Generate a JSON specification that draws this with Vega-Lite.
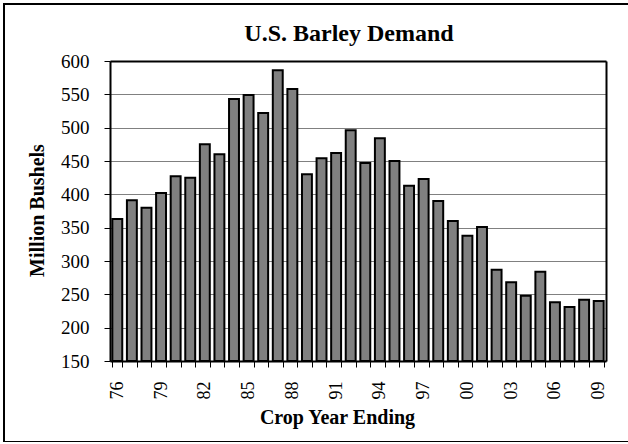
{
  "$schema": "https://vega.github.io/schema/vega-lite/v6.json",
  "autosize": {"type": "none"},
  "width": 626,
  "height": 438,
  "padding": {"left": 4, "top": 4, "right": 0, "bottom": 0},
  "background": "white",
  "title": {
    "text": "U.S. Barley Demand",
    "font": "Liberation Serif",
    "fontSize": 24,
    "fontWeight": "bold",
    "color": "black",
    "anchor": "middle",
    "baseline": "alphabetic",
    "dx": 32,
    "offset": -61
  },
  "data": {
    "values": [
      {"year": 1976, "demand": 363},
      {"year": 1977, "demand": 391},
      {"year": 1978, "demand": 380},
      {"year": 1979, "demand": 402},
      {"year": 1980, "demand": 427},
      {"year": 1981, "demand": 425},
      {"year": 1982, "demand": 475},
      {"year": 1983, "demand": 460},
      {"year": 1984, "demand": 543},
      {"year": 1985, "demand": 549},
      {"year": 1986, "demand": 522},
      {"year": 1987, "demand": 586},
      {"year": 1988, "demand": 558},
      {"year": 1989, "demand": 430},
      {"year": 1990, "demand": 454},
      {"year": 1991, "demand": 462},
      {"year": 1992, "demand": 496},
      {"year": 1993, "demand": 447},
      {"year": 1994, "demand": 484},
      {"year": 1995, "demand": 450},
      {"year": 1996, "demand": 413},
      {"year": 1997, "demand": 423},
      {"year": 1998, "demand": 390},
      {"year": 1999, "demand": 360},
      {"year": 2000, "demand": 338},
      {"year": 2001, "demand": 351},
      {"year": 2002, "demand": 287},
      {"year": 2003, "demand": 268},
      {"year": 2004, "demand": 248},
      {"year": 2005, "demand": 284},
      {"year": 2006, "demand": 238},
      {"year": 2007, "demand": 231},
      {"year": 2008, "demand": 242},
      {"year": 2009, "demand": 240}
    ]
  },
  "layer": [
    {
      "mark": {"type": "bar", "fill": "#808080", "stroke": "black", "strokeWidth": 2},
      "encoding": {
        "x": {
          "field": "year",
          "type": "ordinal",
          "scale": {"range": [106, 602], "paddingInner": 0.32, "paddingOuter": 0.16},
          "axis": {
            "orient": "bottom",
            "offset": -81,
            "title": "Crop Year Ending",
            "titleFont": "Liberation Serif",
            "titleFontSize": 20,
            "titleFontWeight": "bold",
            "titleColor": "black",
            "titleBaseline": "alphabetic",
            "titleX": 333,
            "titleY": 62,
            "labelExpr": "datum.value % 3 == 2 ? slice(toString(datum.value), 2) : ''",
            "labelAngle": -90,
            "labelFont": "Liberation Serif",
            "labelFontSize": 18,
            "labelColor": "black",
            "labelPadding": 14,
            "labelOverlap": false,
            "tickBand": "extent",
            "tickSize": 6,
            "tickColor": "black",
            "domainColor": "black",
            "domainWidth": 2,
            "grid": false
          }
        },
        "y": {
          "field": "demand",
          "type": "quantitative",
          "scale": {"domain": [150, 600], "range": [357, 57], "nice": false, "zero": false},
          "axis": {
            "orient": "left",
            "offset": -106,
            "title": "Million Bushels",
            "titleFont": "Liberation Serif",
            "titleFontSize": 20,
            "titleFontWeight": "bold",
            "titleColor": "black",
            "titleBaseline": "alphabetic",
            "titleAngle": -90,
            "titleX": -67,
            "titleY": 206,
            "values": [150, 200, 250, 300, 350, 400, 450, 500, 550, 600],
            "labelFont": "Liberation Serif",
            "labelFontSize": 19,
            "labelColor": "black",
            "labelPadding": 15,
            "tickSize": 6,
            "tickColor": "black",
            "domainColor": "black",
            "domainWidth": 2,
            "grid": true,
            "gridColor": "#808080",
            "gridWidth": 1
          }
        },
        "y2": {"datum": 150}
      }
    },
    {
      "mark": {"type": "bar", "fillOpacity": 0, "strokeOpacity": 0},
      "encoding": {
        "x": {
          "field": "year",
          "type": "ordinal",
          "axis": {
            "orient": "top",
            "offset": -57,
            "title": null,
            "labels": false,
            "ticks": false,
            "grid": false,
            "domainColor": "black",
            "domainWidth": 2
          }
        },
        "y": {
          "field": "demand",
          "type": "quantitative",
          "axis": {
            "orient": "right",
            "offset": -24,
            "title": null,
            "labels": false,
            "ticks": false,
            "grid": false,
            "domainColor": "black",
            "domainWidth": 2
          }
        },
        "y2": {"datum": 150}
      }
    }
  ],
  "resolve": {"axis": {"x": "independent", "y": "independent"}},
  "config": {
    "font": "Liberation Serif",
    "view": {"stroke": "black", "strokeWidth": 2},
    "axis": {"labelFont": "Liberation Serif", "titleFont": "Liberation Serif"}
  }
}
